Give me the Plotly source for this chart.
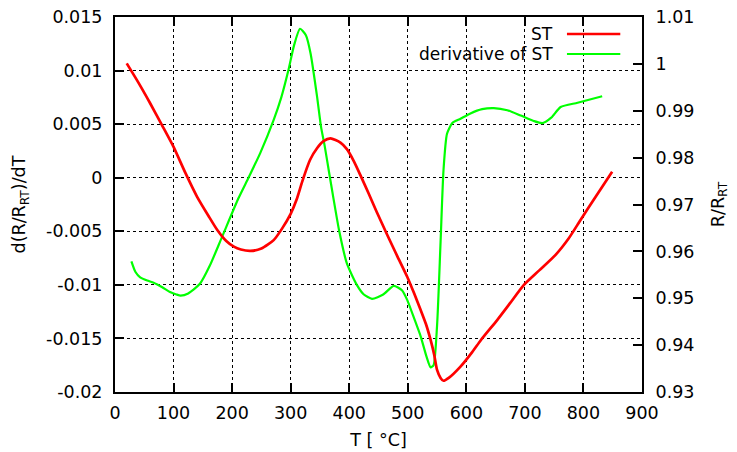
import plotly.graph_objects as go

# Red curve: ST (R/R_RT, right axis)
st_T = [20, 40, 60, 80, 100, 120, 140, 160, 175, 190, 203, 215, 231, 250, 271, 285, 300, 310, 320, 333,
        345, 356, 368, 385, 396, 408, 420, 433, 447, 465, 482, 499, 511, 522, 531, 539, 545, 550, 556, 561,
        570, 590, 610, 625, 653, 675, 698, 725, 752, 775, 795, 820, 849]
st_R = [1.0001, 0.9960, 0.9916, 0.9870, 0.9823, 0.9768, 0.9717, 0.9675, 0.9645, 0.9622, 0.9610, 0.9604,
        0.9601, 0.9606, 0.9624, 0.9648, 0.9680, 0.9710, 0.9750, 0.9795, 0.9820, 0.9835, 0.9841, 0.9832,
        0.9818, 0.9792, 0.9760, 0.9724, 0.9684, 0.9635, 0.9590, 0.9546, 0.9510, 0.9475, 0.9445, 0.9411,
        0.9380, 0.9347, 0.9330, 0.9324, 0.9330, 0.9354, 0.9385, 0.9411, 0.9454, 0.9490, 0.9528, 0.9560,
        0.9592, 0.9628, 0.9667, 0.9715, 0.9770]

# Green curve: derivative of ST (left axis)
der_T = [28, 35, 43, 55, 66, 80, 95, 105, 112, 125, 145, 162, 183, 211, 228, 248, 271, 284, 296, 306,
         316, 326, 334, 345, 352, 358, 365, 373, 383, 396, 413, 425, 439, 458, 476, 490, 499, 512, 522,
         532, 539, 544, 550, 556, 561, 567, 576, 590, 607, 627, 647, 670, 693, 715, 730, 745, 761, 790, 832]
der_V = [-0.0078, -0.0088, -0.0093, -0.0096, -0.0098, -0.0102, -0.0107, -0.0109, -0.0110, -0.0108,
         -0.0099, -0.0082, -0.0055, -0.0019, 0.0000, 0.0023, 0.0054, 0.0075, 0.0100, 0.0124, 0.0139,
         0.0133, 0.0116, 0.0076, 0.0047, 0.0030, 0.0007, -0.0019, -0.0050, -0.0080, -0.0100, -0.0109,
         -0.0113, -0.0109, -0.0101, -0.0105, -0.0114, -0.0133, -0.0148, -0.0167, -0.0177, -0.0175,
         -0.0138, -0.0060, 0.0007, 0.0041, 0.0051, 0.0055, 0.0060, 0.0064, 0.0065, 0.0063, 0.0058,
         0.0053, 0.0051, 0.0056, 0.0066, 0.0070, 0.0076]

x_ticks = [0, 100, 200, 300, 400, 500, 600, 700, 800, 900]
y_ticks = [-0.02, -0.015, -0.01, -0.005, 0, 0.005, 0.01, 0.015]
y_labels = ["-0.02", "-0.015", "-0.01", "-0.005", "0", "0.005", "0.01", "0.015"]
y2_ticks = [0.93, 0.94, 0.95, 0.96, 0.97, 0.98, 0.99, 1.0, 1.01]
y2_labels = ["0.93", "0.94", "0.95", "0.96", "0.97", "0.98", "0.99", "1", "1.01"]

FONT = "DejaVu Sans"
FS = 17.5
fig = go.Figure()
fig.add_trace(go.Scatter(x=der_T, y=der_V, mode="lines", yaxis="y",
                         line=dict(color="#00ff00", width=2.2, shape="spline", smoothing=0.6),
                         name="derivative of ST", showlegend=False))
fig.add_trace(go.Scatter(x=st_T, y=st_R, mode="lines", yaxis="y2",
                         line=dict(color="#ff0000", width=2.7, shape="spline", smoothing=0.6),
                         name="ST", showlegend=False))

axis_common = dict(showline=True, linecolor="black", linewidth=2, ticks="inside", ticklen=9,
                   tickwidth=2, tickcolor="black", zeroline=False, automargin=False,
                   ticklabeloverflow="allow",
                   tickfont=dict(family=FONT, size=FS, color="black"))

# page body has an 8px default margin, so the figure is 8px smaller than the window
fig.update_layout(
    width=729, height=444,
    margin=dict(l=107, r=95, t=9, b=60),
    paper_bgcolor="white", plot_bgcolor="white",
    font=dict(family=FONT, size=FS, color="black"),
    xaxis=dict(range=[0, 900], tickvals=x_ticks, mirror="ticks", showgrid=True,
               gridcolor="black", griddash="dot", gridwidth=1, ticklabelstandoff=4,
               title=dict(text="T [ °C]", standoff=12, font=dict(family=FONT, size=FS)),
               **axis_common),
    yaxis=dict(range=[-0.02, 0.015], tickvals=y_ticks, ticktext=y_labels, showgrid=True,
               gridcolor="black", griddash="dot", gridwidth=1, ticklabelstandoff=7,
               title=dict(text="d(R/R<sub>RT</sub>)/dT", standoff=16, font=dict(family=FONT, size=FS)),
               **axis_common),
    yaxis2=dict(range=[0.93, 1.01], tickvals=y2_ticks, ticktext=y2_labels, overlaying="y",
                side="right", showgrid=False, ticklabelstandoff=8,
                title=dict(text="R/R<sub>RT</sub>", standoff=18, font=dict(family=FONT, size=FS)),
                **axis_common),
)

# gnuplot-style key: text at left, line sample at right
legend_items = [("ST", "#ff0000", 2.7, 0.9547), ("derivative of ST", "#00ff00", 2.2, 0.9014)]
for label, color, w, yp in legend_items:
    fig.add_annotation(x=0.8354, y=yp, xref="paper", yref="paper", text=label, showarrow=False,
                       xanchor="right", yanchor="middle", font=dict(family=FONT, size=17, color="black"))
    fig.add_shape(type="line", xref="paper", yref="paper", x0=0.8576, x1=0.9588, y0=yp, y1=yp,
                  line=dict(color=color, width=w))

fig.write_html("out.html")
